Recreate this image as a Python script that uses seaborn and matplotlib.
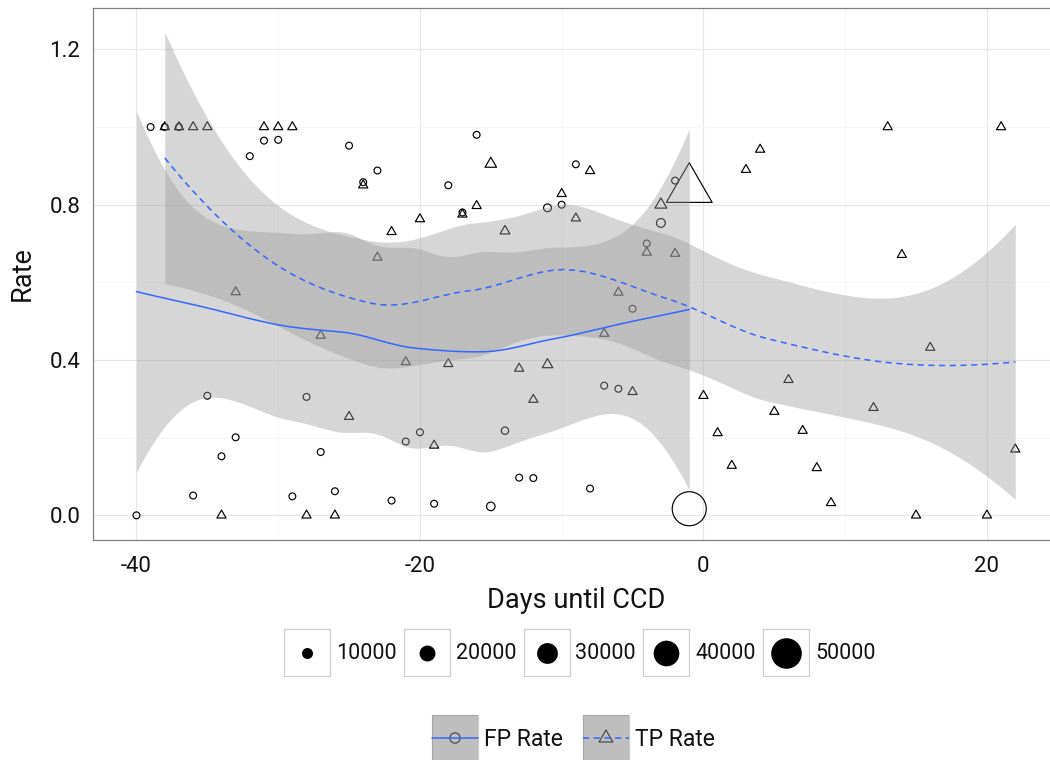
import numpy as np
import pandas as pd
import matplotlib
matplotlib.use("Agg")
import matplotlib.pyplot as plt
from matplotlib.colors import FuncNorm
from matplotlib.patches import Rectangle
from matplotlib.path import Path
import seaborn as sns

nan = np.nan

# ---- data -------------------------------------------------------------
days = list(range(-40, 23))

fp_rate = [0.000, 1.000, 1.000, 1.000, 0.051, 0.308, 0.152, 0.201, 0.925, 0.965,
           0.967, 0.049, 0.305, 0.163, 0.062, 0.952, 0.858, 0.888, 0.038, 0.190,
           0.214, 0.030, 0.850, 0.780, 0.980, 0.023, 0.218, 0.097, 0.096, 0.792,
           0.800, 0.904, 0.069, 0.334, 0.326, 0.532, 0.700, 0.753, 0.862, 0.017,
           nan, nan, nan, nan, nan, nan, nan, nan, nan, nan,
           nan, nan, nan, nan, nan, nan, nan, nan, nan, nan,
           nan, nan, nan]

tp_rate = [nan, nan, 1.000, 1.000, 1.000, 1.000, 0.000, 0.575, nan, 1.000,
           1.000, 1.000, 0.000, 0.463, 0.000, 0.254, 0.850, 0.664, 0.730, 0.395,
           0.763, 0.180, 0.390, 0.775, 0.797, 0.905, 0.732, 0.378, 0.298, 0.388,
           0.828, 0.765, 0.887, 0.468, 0.574, 0.318, 0.677, 0.800, 0.674, 0.840,
           0.308, 0.212, 0.128, 0.890, 0.942, 0.267, 0.349, 0.218, 0.122, 0.032,
           nan, nan, 0.277, 1.000, 0.671, 0.000, 0.432, nan, nan, nan,
           0.000, 1.000, 0.170]

reports = [1500, 1500, 1500, 1500, 1500, 1500, 1500, 1500, 1500, 1500,
           1500, 1500, 1500, 1500, 1500, 1500, 1500, 1500, 1500, 1500,
           1500, 1500, 1500, 1500, 1500, 5000, 2500, 1500, 1500, 3500,
           1500, 1500, 1500, 1500, 1500, 1500, 1500, 5500, 1500, 57000,
           1500, 1500, 1500, 1500, 1500, 1500, 1500, 1500, 1500, 1500,
           nan, nan, 1500, 1500, 1500, 1500, 1500, nan, nan, nan,
           1500, 1500, 1500]

legend_sizes = [10000, 20000, 30000, 40000, 50000]
series_labels = ["FP Rate", "TP Rate"]
x_ticks = [-40, -20, 0, 20]
y_ticks = [0.0, 0.4, 0.8, 1.2]

frame = pd.DataFrame({"day": days, "fp": fp_rate, "tp": tp_rate, "reports": reports})
fp = frame.dropna(subset=["fp"])
tp = frame.dropna(subset=["tp"])


# ---- loess (local quadratic, span 0.75, kd-tree + cubic Hermite surface) --
def loess(x, y, grid, span=0.75, cell=0.2):
    order = np.argsort(np.asarray(x, float))
    x = np.asarray(x, float)[order]
    y = np.asarray(y, float)[order]
    n = x.size
    q = int(np.floor(n * span))

    def local_rows(x0):
        d = np.abs(x - x0)
        h = np.sort(d)[q - 1]
        w = np.clip(1 - (d / h) ** 3, 0, None) ** 3
        X = np.column_stack([np.ones(n), x - x0, (x - x0) ** 2])
        A = X.T * w
        B = np.linalg.solve(A @ X, A)
        return B[0], B[1]

    # vertices of the kd tree
    fc = int(np.floor(n * span * cell))
    margin = 0.005 * (x[-1] - x[0])
    verts = [x[0] - margin, x[-1] + margin]

    def split(lo, hi):
        if hi - lo + 1 <= fc:
            return
        m = (lo + hi) // 2
        verts.append(0.5 * (x[m] + x[m + 1]))
        split(lo, m)
        split(m + 1, hi)

    split(0, n - 1)
    verts = np.sort(verts)
    rows = [local_rows(v) for v in verts]
    V = np.array([r[0] for r in rows])
    S = np.array([r[1] for r in rows])

    def operator(points):
        out = []
        for x0 in points:
            j = int(np.clip(np.searchsorted(verts, x0) - 1, 0, len(verts) - 2))
            a, b = verts[j], verts[j + 1]
            hl = b - a
            t = (x0 - a) / hl
            h00 = 2 * t ** 3 - 3 * t ** 2 + 1
            h10 = t ** 3 - 2 * t ** 2 + t
            h01 = -2 * t ** 3 + 3 * t ** 2
            h11 = t ** 3 - t ** 2
            out.append(h00 * V[j] + h10 * hl * S[j] + h01 * V[j + 1] + h11 * hl * S[j + 1])
        return np.array(out)

    L = operator(x)
    G = operator(grid)
    resid = y - L @ y
    R = np.eye(n) - L
    M = R.T @ R
    one_delta = np.trace(M)
    two_delta = np.trace(M @ M)
    s = np.sqrt(resid @ resid / one_delta)
    df = one_delta ** 2 / two_delta
    z = 1.959963985
    t = (z + (z ** 3 + z) / (4 * df)
         + (5 * z ** 5 + 16 * z ** 3 + 3 * z) / (96 * df ** 2)
         + (3 * z ** 7 + 19 * z ** 5 + 17 * z ** 3 - 15 * z) / (384 * df ** 3))
    fit = G @ y
    se = s * np.sqrt((G ** 2).sum(axis=1))
    return fit, fit - t * se, fit + t * se


# ---- style --------------------------------------------------------------
sns.set_style("white")
plt.rcParams["font.family"] = ["Roboto", "DejaVu Sans"]
plt.rcParams["axes.unicode_minus"] = False

W, H = 1050, 760
fig = plt.figure(figsize=(W / 100, H / 100), dpi=100)
ax = fig.add_axes([92.5 / W, (H - 539.5) / H, (1059.2 - 92.5) / W, (539.5 - 8) / H])

# marker diameter grows linearly with the number of reports
offset = 12450.0
size_norm = FuncNorm((lambda v: (np.asarray(v, float) + offset) ** 2,
                      lambda u: np.sqrt(u) - offset), vmin=0, vmax=60000)
circle_sizes = (19.3, 653.0)
tri_scale = 2.418
tri_sizes = (circle_sizes[0] * tri_scale, circle_sizes[1] * tri_scale)

tri = Path([(0, 1), (-0.866, -0.5), (0.866, -0.5), (0, 1)],
           [Path.MOVETO, Path.LINETO, Path.LINETO, Path.CLOSEPOLY])

sns.scatterplot(data=fp, x="day", y="fp", size="reports", sizes=circle_sizes,
                size_norm=size_norm, marker="o", legend=False, ax=ax, zorder=2)
coll = ax.collections[-1]
coll.set_facecolor("none"); coll.set_edgecolor("black"); coll.set_linewidth(0.85)

sns.scatterplot(data=tp, x="day", y="tp", size="reports", sizes=tri_sizes,
                size_norm=size_norm, marker=tri, legend=False, ax=ax, zorder=2)
coll = ax.collections[-1]
coll.set_facecolor("none"); coll.set_edgecolor("black"); coll.set_linewidth(0.85)

# smoothers
fits = []
y_low, y_high = 0.0, 1.0
for sub, col in [(fp, "fp"), (tp, "tp")]:
    grid = np.linspace(sub["day"].min(), sub["day"].max(), 80)
    fit, lo, hi = loess(sub["day"], sub[col], grid)
    ax.fill_between(grid, lo, hi, color="#999999", alpha=0.4, lw=0, zorder=3)
    fits.append((grid, fit))
    y_low = min(y_low, lo.min(), sub[col].min())
    y_high = max(y_high, hi.max(), sub[col].max())

line_styles = ["-", (0, (4, 3))]
for (grid, fit), ls in zip(fits, line_styles):
    ax.plot(grid, fit, color="#3366FF", lw=1.1, ls=ls, zorder=4)

# scales
x_min, x_max = min(days), max(days)
xr = x_max - x_min
ax.set_xlim(x_min - 0.05 * xr, x_max + 0.05 * xr)
yr = y_high - y_low
ax.set_ylim(y_low - 0.05 * yr, y_high + 0.05 * yr)

ax.set_xticks(x_ticks)
ax.set_xticklabels([f"{v:d}" for v in x_ticks])
ax.set_yticks(y_ticks)
ax.set_yticklabels([f"{v:.1f}" for v in y_ticks])
ax.set_xticks([-30, -10, 10], minor=True)
ax.set_yticks([0.2, 0.6, 1.0], minor=True)
ax.grid(which="major", color="#e6e6e6", lw=0.8)
ax.grid(which="minor", color="#f5f5f5", lw=0.6)
ax.set_axisbelow(True)
ax.tick_params(which="major", length=3.6, width=0.8, color="#333333",
               labelsize=16, labelcolor="#111111", pad=5)
ax.tick_params(axis="x", pad=8)
ax.tick_params(which="minor", length=0)
for sp in ax.spines.values():
    sp.set_color("#808080"); sp.set_linewidth(0.9)

ax.set_xlabel("Days until CCD", fontsize=19.5, color="#111111")
ax.set_ylabel("Rate", fontsize=19.5, color="#111111")
ax.xaxis.set_label_coords(0.5, (H - 600 - (H - 539.5)) / (539.5 - 8))
ax.xaxis.label.set_va("center")
ax.yaxis.set_label_coords((22 - 92.5) / (1059.2 - 92.5), 0.5)
ax.yaxis.label.set_va("center")

# ---- legends (pixel coordinates) ---------------------------------------
lg = fig.add_axes([0, 0, 1, 1], zorder=5)
lg.set_xlim(0, W); lg.set_ylim(H, 0); lg.axis("off")
lg.patch.set_alpha(0)

key_w, key_h = 46, 47
for i, v in enumerate(legend_sizes):
    left = 284 + 119.75 * i
    top = 629
    lg.add_patch(Rectangle((left, top), key_w, key_h, facecolor="white",
                           edgecolor="#cccccc", lw=0.9))
    area = circle_sizes[0] + (circle_sizes[1] - circle_sizes[0]) * float(size_norm(v))
    lg.scatter([left + key_w / 2], [top + key_h / 2], s=area, color="black", lw=0)
    lg.text(left + key_w + 6, top + key_h / 2 + 1, f"{v}", fontsize=15.5,
            va="center", ha="left", color="#111111")

markers = ["o", tri]
marker_area = [55, 55 * tri_scale]
for i, lab in enumerate(series_labels):
    left = 432 + 151 * i
    top = 715
    lg.add_patch(Rectangle((left, top), key_w, 46, facecolor="white",
                           edgecolor="#cccccc", lw=0.9, zorder=1))
    lg.scatter([left + key_w / 2], [top + 23], s=marker_area[i], marker=markers[i],
               facecolor="none", edgecolor="black", lw=0.8, zorder=2)
    lg.add_patch(Rectangle((left, top), key_w, 46, facecolor="#7f7f7f",
                           alpha=0.5, lw=0, zorder=3))
    lg.plot([left, left + key_w], [top + 23, top + 23], color="#3366FF",
            lw=1.1, ls=line_styles[i], zorder=4)
    lg.text(left + key_w + 6, top + 24, lab, fontsize=16.5, va="center",
            ha="left", color="#111111")

fig.savefig("out.png", dpi=100)
